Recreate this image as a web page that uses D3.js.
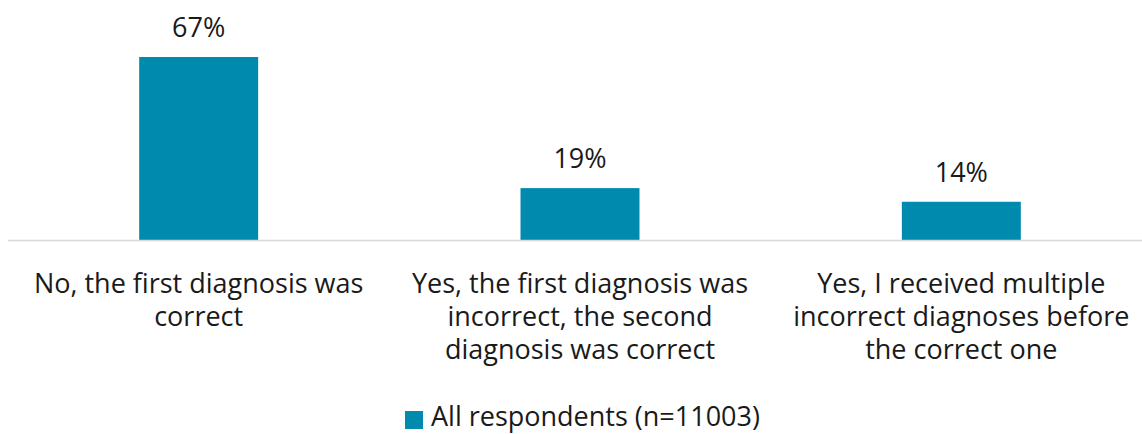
<!DOCTYPE html>
<html>
<head>
<meta charset="utf-8">
<script src="https://cdn.jsdelivr.net/npm/d3@7"></script>
<style>
  body { margin: 0; background: #fff; }
  svg text { font-family: "Open Sans", "Noto Sans", sans-serif; fill: #1a1a1a; }
</style>
</head>
<body>
<div id="chart"></div>
<script>
// Chart data
const categories = [
    ["No, the first diagnosis was", "correct"],
    ["Yes, the first diagnosis was", "incorrect, the second", "diagnosis was correct"],
    ["Yes, I received multiple", "incorrect diagnoses before", "the correct one"]
];
const values = [67, 19, 14];
const seriesName = "All respondents (n=11003)";

const width = 1142, height = 434;
const color = "#008aae";
const baseY = 240;

const svg = d3.select('#chart')
    .append('svg')
    .attr('width', width)
    .attr('height', height);

// Scales
const x = d3.scaleBand()
    .domain(d3.range(categories.length))
    .range([8, 1152])
    .paddingInner(0.688)
    .paddingOuter(0.344);

const y = d3.scaleLinear()
    .domain([0, 67])
    .range([baseY, 57]);

// Bars
svg.selectAll('rect.bar')
    .data(values)
    .enter()
    .append('rect')
    .attr('class', 'bar')
    .attr('x', (d, i) => x(i))
    .attr('y', (d) => y(d))
    .attr('width', x.bandwidth())
    .attr('height', (d) => baseY - y(d))
    .attr('fill', color);

// Baseline
svg.append('line')
    .attr('x1', 8)
    .attr('x2', width)
    .attr('y1', baseY + 0.5)
    .attr('y2', baseY + 0.5)
    .attr('stroke', '#d9d9d9')
    .attr('stroke-width', 1.5);

// Value labels
svg.selectAll('text.value')
    .data(values)
    .enter()
    .append('text')
    .attr('class', 'value')
    .attr('x', (d, i) => x(i) + x.bandwidth() / 2)
    .attr('y', (d) => y(d) - 20)
    .attr('text-anchor', 'middle')
    .style('font-size', '27px')
    .text((d) => d + '%');

// Category labels
const catLabels = svg.selectAll('text.cat')
    .data(categories)
    .enter()
    .append('text')
    .attr('class', 'cat')
    .attr('text-anchor', 'middle')
    .style('font-size', '27px');

catLabels.selectAll('tspan')
    .data((d, i) => d.map((line) => ({ line: line, i: i })))
    .enter()
    .append('tspan')
    .attr('x', (d) => x(d.i) + x.bandwidth() / 2)
    .attr('y', (d, j) => 293 + j * 33)
    .text((d) => d.line);

// Legend
const legend = svg.append('g');
legend.append('rect')
    .attr('x', 405)
    .attr('y', 411)
    .attr('width', 18)
    .attr('height', 18)
    .attr('fill', color);
legend.append('text')
    .attr('x', 431)
    .attr('y', 426)
    .style('font-size', '27px')
    .text(seriesName);
</script>
</body>
</html>
